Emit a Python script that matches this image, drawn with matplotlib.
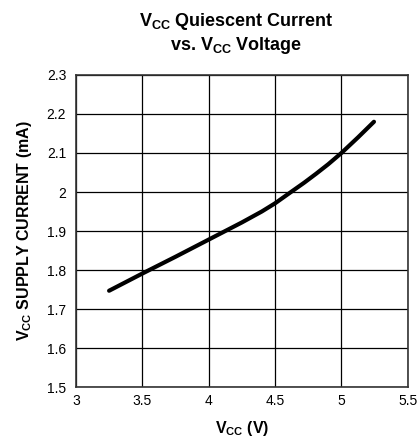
import matplotlib

matplotlib.use("Agg")
import matplotlib.pyplot as plt  # noqa: E402

vcc = [3.25, 3.5, 3.75, 4.0, 4.25, 4.4, 4.5, 4.62, 4.72, 4.81, 4.9, 5.0, 5.125, 5.245]
icc = [1.747, 1.791, 1.834, 1.878, 1.922, 1.950, 1.971, 2.0, 2.024, 2.047, 2.071, 2.1, 2.14, 2.18]

x_ticks = [3, 3.5, 4, 4.5, 5, 5.5]
x_labels = ["3", "3.5", "4", "4.5", "5", "5.5"]
y_ticks = [1.5, 1.6, 1.7, 1.8, 1.9, 2.0, 2.1, 2.2, 2.3]
y_labels = ["1.5", "1.6", "1.7", "1.8", "1.9", "2", "2.1", "2.2", "2.3"]

plt.rcParams["font.family"] = ["Liberation Sans", "DejaVu Sans"]
plt.rcParams["mathtext.fontset"] = "custom"
plt.rcParams["mathtext.rm"] = "Liberation Sans"
plt.rcParams["mathtext.bf"] = "Liberation Sans:bold"

fig = plt.figure(figsize=(4.17, 4.46), dpi=100)
ax = fig.add_axes([0.182, 0.132, 0.796, 0.700])

ax.plot(vcc, icc, color="black", linewidth=3, solid_capstyle="round", solid_joinstyle="round")

ax.set_xlim(3, 5.5)
ax.set_ylim(1.5, 2.3)
ax.set_xticks(x_ticks)
ax.set_xticklabels(x_labels)
ax.set_yticks(y_ticks)
ax.set_yticklabels(y_labels)
ax.tick_params(axis="x", length=0, labelsize=10, pad=5)
ax.tick_params(axis="y", length=0, labelsize=10, pad=7)
ax.grid(color="black", linewidth=0.9)
for s in ax.spines.values():
    s.set_color("#333333")
    s.set_linewidth(1.2)

fig.text(0.567, 0.925, r"V$_{\mathbf{CC}}$ Quiescent Current" + "\n" + r"vs. V$_{\mathbf{CC}}$ Voltage",
         ha="center", va="center", fontsize=13, fontweight="bold", linespacing=1.15)
ax.set_xlabel(r"V$_{\mathbf{CC}}$ (V)", fontsize=11.5, fontweight="bold", labelpad=8)
ax.set_ylabel(r"V$_{\mathbf{CC}}$ SUPPLY CURRENT (mA)", fontsize=11.5, fontweight="bold", labelpad=9)

fig.savefig("out.png", dpi=100)
plt.close(fig)
